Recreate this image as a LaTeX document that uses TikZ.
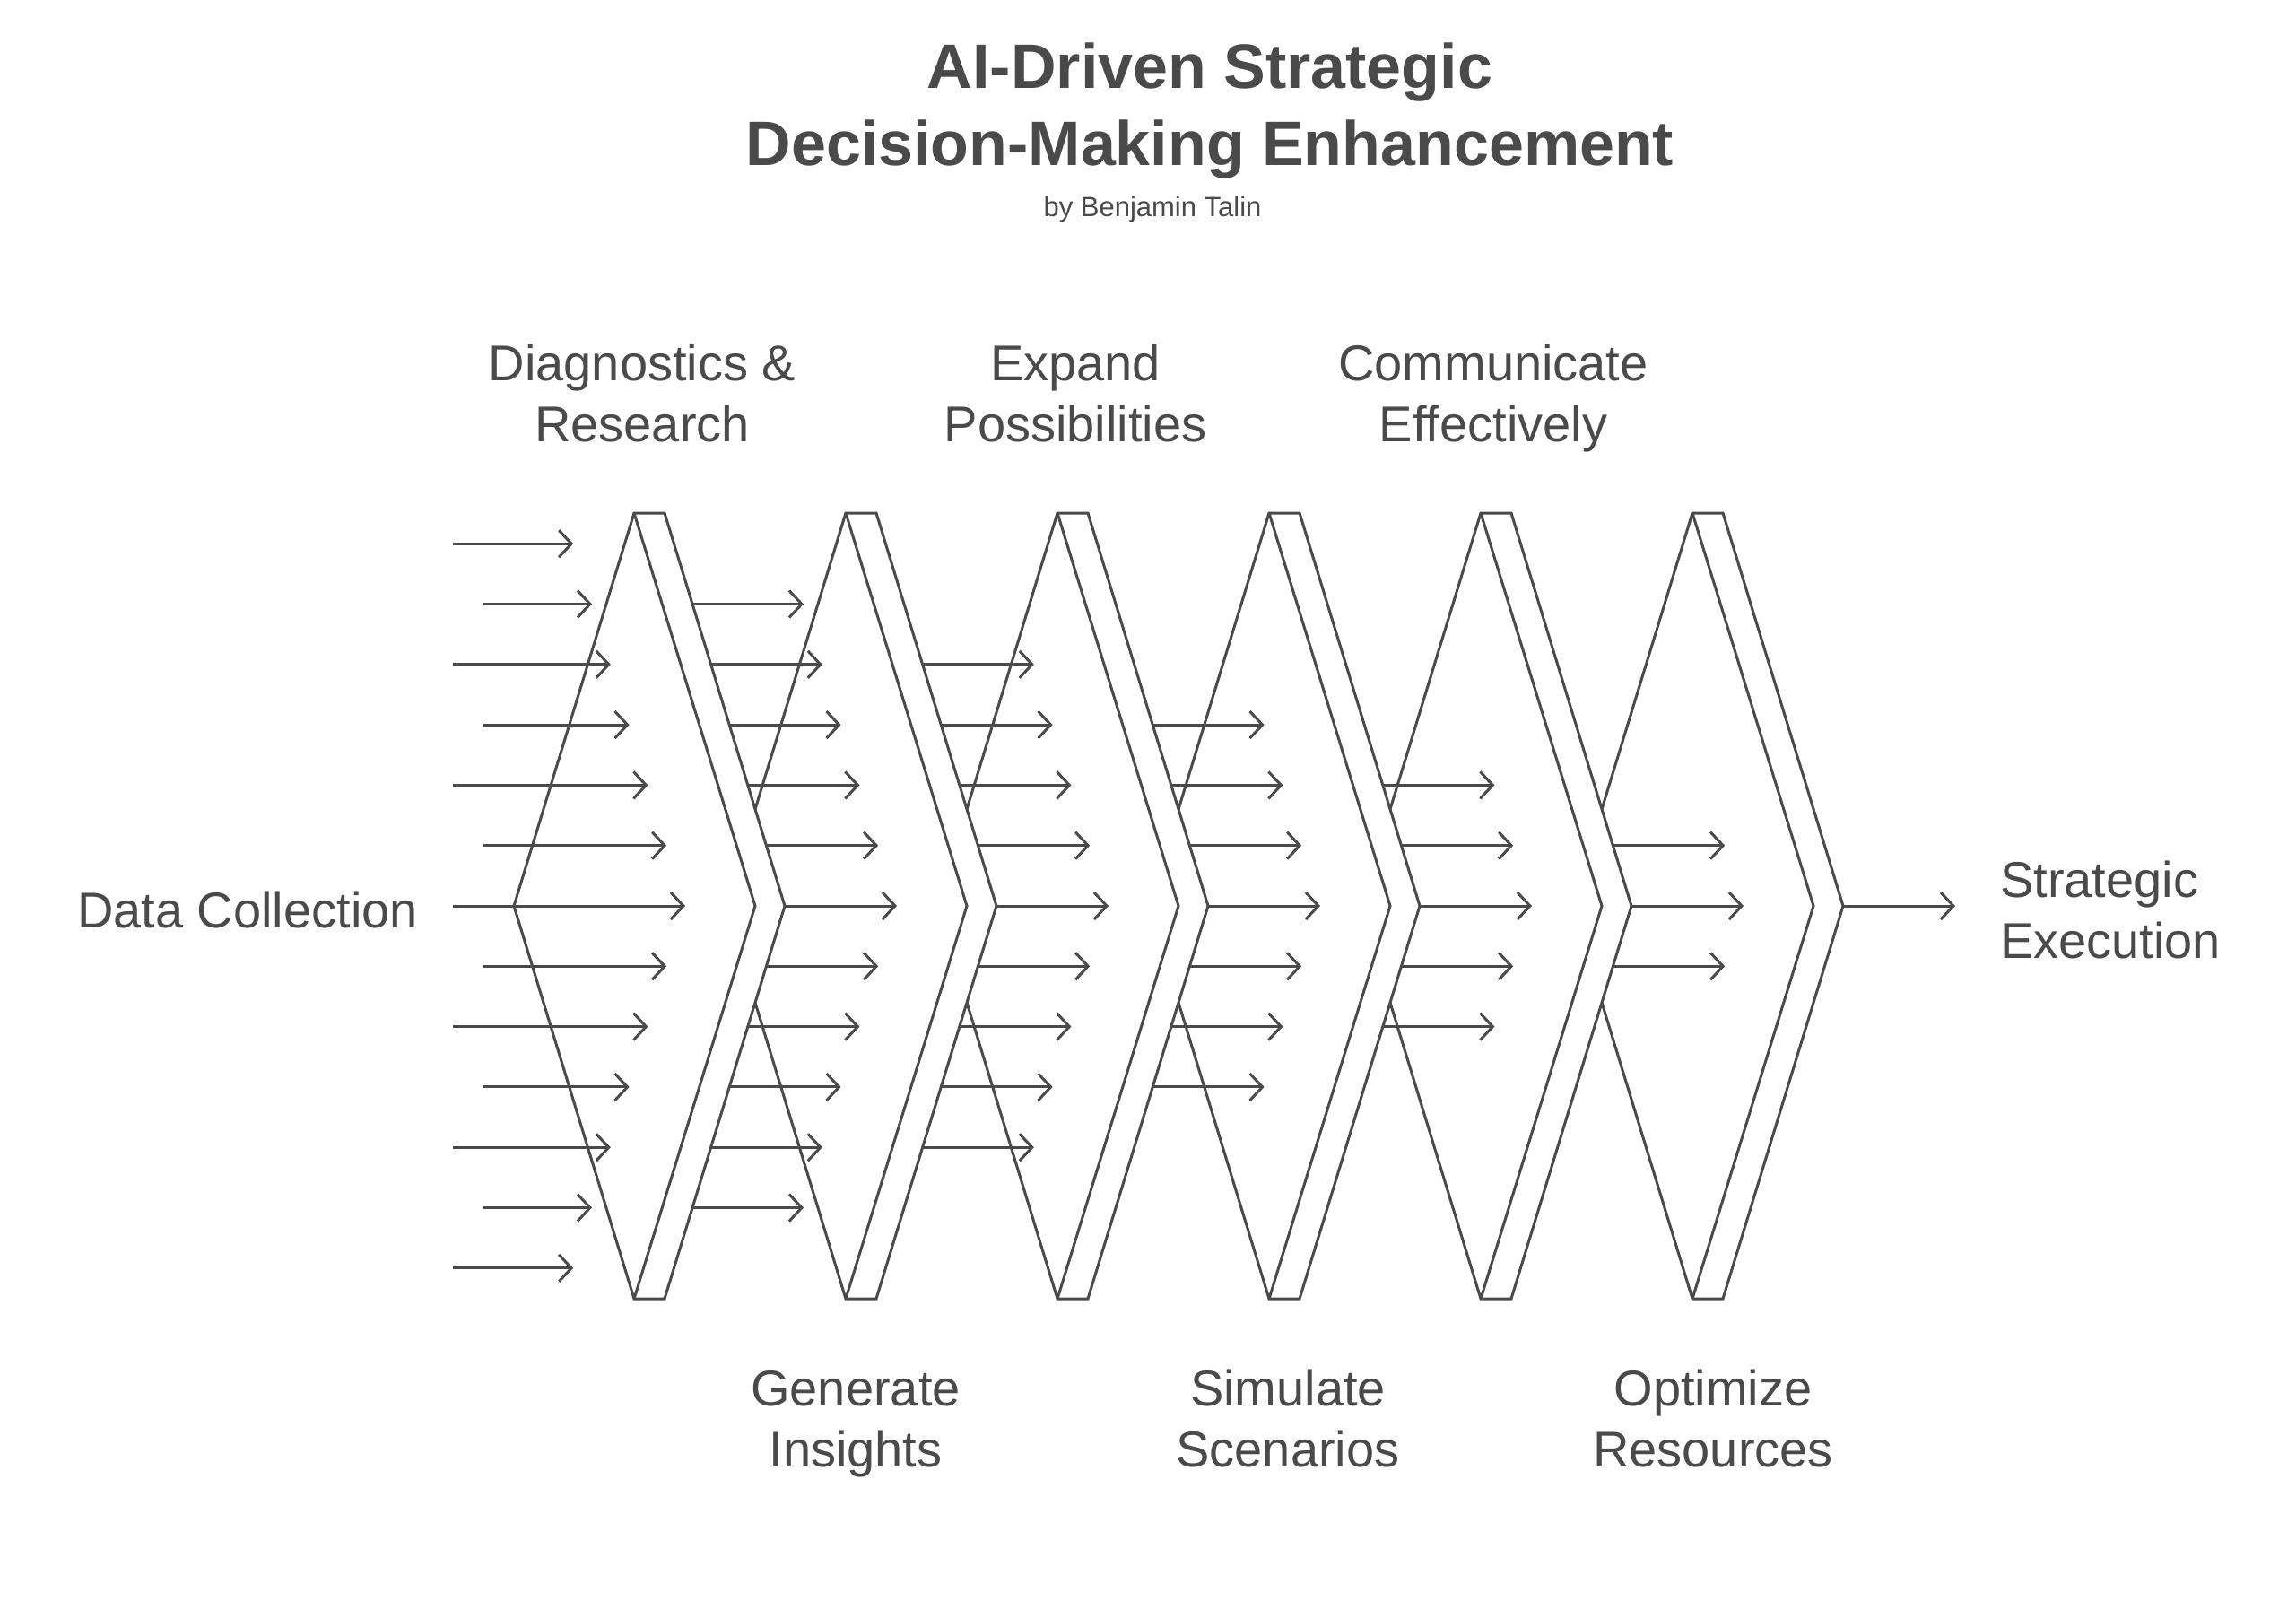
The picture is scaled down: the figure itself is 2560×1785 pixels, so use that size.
\documentclass[tikz,border=0pt]{standalone}
\usepackage{fontspec}
\setmainfont{Liberation Sans}
\usetikzlibrary{arrows.meta}
\definecolor{ink}{HTML}{4A4A4A}
\begin{document}
\begin{tikzpicture}[x=1pt,y=-1pt,
  chev/.style={draw=ink,line width=3pt,fill=white,line join=miter},
  flow/.style={draw=ink,line width=3pt,-{Straight Barb[length=14pt,width=30pt]}},
  lbl/.style={text=ink,font=\fontsize{56}{68}\selectfont,align=center,inner sep=0pt,anchor=base}]
\useasboundingbox[fill=white] (0,0) rectangle (2560,1785);
\node[text=ink,font=\bfseries\fontsize{70}{86}\selectfont,align=center,anchor=base,inner sep=0pt] (title) at (1349,184) {AI-Driven Strategic\\ Decision-Making Enhancement};
\node[text=ink,font=\fontsize{31}{34}\selectfont,anchor=base,inner sep=0pt] (sub) at (1285,241) {by Benjamin Talin};
% chevrons, right to left
\foreach \k in {6,5,4,3,2,1}{
  \pgfmathsetmacro{\d}{(\k-1)*236}
  \coordinate (A\k) at (707+\d,572);
  \coordinate (E\k) at (707+\d,1448);
  \coordinate (C\k) at (875+\d,1010);
  \draw[chev] (A\k) -- (741+\d,572) -- (C\k) -- (741+\d,1448) -- (E\k) -- (573+\d,1010) -- cycle;
  \draw[chev,fill=none] (A\k) -- (842+\d,1010) -- (E\k);
}
% arrows
\foreach \c in {1,...,7}{
  \pgfmathtruncatemacro{\m}{7-\c}
  \foreach \i in {-\m,...,\m}{
    \pgfmathsetmacro{\y}{1010+\i*67.3}
    \pgfmathsetmacro{\tip}{764+(\c-1)*236-abs(\i)*20.8}
    \ifnum\c=1
      \pgfmathsetmacro{\st}{isodd(\i)?539:505}
    \else
      \pgfmathsetmacro{\st}{741+(\c-2)*236+134*(1-abs(\i)*67.3/438)}
    \fi
    \coordinate (s\c\i) at (\st,\y);
    \coordinate (t\c\i) at (\tip,\y);
    \draw[flow] (s\c\i) -- (t\c\i);
  }
}
\node[lbl] (dc) at (276,1034) {Data Collection};
\node[lbl,anchor=base west,align=left] (se) at (2230,1068) {Strategic\\ Execution};
\node[lbl] (l1) at (716,492) {Diagnostics \&\\ Research};
\node[lbl] (l3) at (1199,492) {Expand\\ Possibilities};
\node[lbl] (l5) at (1665,492) {Communicate\\ Effectively};
\node[lbl] (l2) at (954,1635) {Generate\\ Insights};
\node[lbl] (l4) at (1436,1635) {Simulate\\ Scenarios};
\node[lbl] (l6) at (1910,1635) {Optimize\\ Resources};
\end{tikzpicture}
\end{document}
